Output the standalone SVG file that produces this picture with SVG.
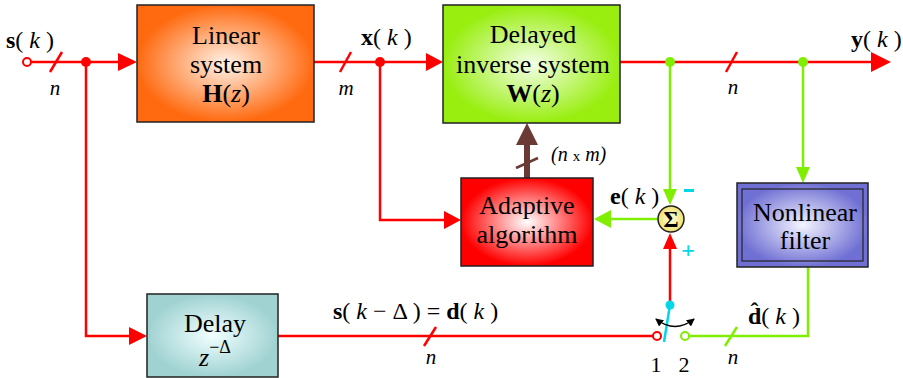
<svg xmlns="http://www.w3.org/2000/svg" width="903" height="378" viewBox="0 0 903 378" font-family="'Liberation Serif', 'Times New Roman', 'DejaVu Serif', serif">
<style>
.box{stroke:#222;stroke-width:1.5}
.bt{font-size:26px;text-anchor:middle}
.lb{font-size:24px}
.n{font-size:21px;font-style:italic;text-anchor:middle}
.r{stroke:#ff0000;stroke-width:2.5;fill:none}
.g{stroke:#80ee00;stroke-width:2.5;fill:none}
.b{font-weight:bold}
.i{font-style:italic}
</style>
<defs>
<radialGradient id="gO"><stop offset="0" stop-color="#fff4ea"/><stop offset="1" stop-color="#ff6a10"/></radialGradient>
<radialGradient id="gG"><stop offset="0" stop-color="#f4ffe8"/><stop offset="1" stop-color="#99ee10"/></radialGradient>
<radialGradient id="gR"><stop offset="0" stop-color="#ffffff"/><stop offset="1" stop-color="#ff0000"/></radialGradient>
<radialGradient id="gT"><stop offset="0" stop-color="#f2ffff"/><stop offset="1" stop-color="#a0d2d2"/></radialGradient>
<radialGradient id="gB"><stop offset="0" stop-color="#f4f4ff"/><stop offset="1" stop-color="#7070d4"/></radialGradient>
<radialGradient id="gY"><stop offset="0" stop-color="#ffffe0"/><stop offset="1" stop-color="#f0e070"/></radialGradient>
<marker id="aK" markerWidth="8" markerHeight="8" refX="7" refY="4" orient="auto-start-reverse" markerUnits="userSpaceOnUse" viewBox="0 0 8 8"><path d="M0,0 L8,4 L0,8 Z" fill="#000"/></marker>
</defs>

<g id="connectors">
  <path class="r" d="M31,62 H118" />
  <path d="M118,53 L137,62 L118,71 Z" fill="#ff0000"/>
  <line class="r" x1="50" y1="72" x2="62" y2="52" stroke-width="2"/>
  <circle cx="86" cy="62" r="5" fill="#ff0000"/>
  <path class="r" d="M86,62 V336 H130"/>
  <path d="M129,327 L147,336 L129,345 Z" fill="#ff0000"/>
  <path class="r" d="M314,62 H426"/>
  <path d="M426,53 L443,62 L426,71 Z" fill="#ff0000"/>
  <line class="r" x1="340" y1="72" x2="351" y2="52" stroke-width="2"/>
  <circle cx="380" cy="62" r="5" fill="#ff0000"/>
  <path class="r" d="M380,62 V220 H445"/>
  <path d="M444,211 L461,220 L444,229 Z" fill="#ff0000"/>
  <path class="r" d="M620,62 H872"/>
  <path d="M871,52 L891,62 L871,72 Z" fill="#ff0000"/>
  <line class="r" x1="726" y1="72" x2="737" y2="52" stroke-width="2"/>
  <circle cx="670" cy="62" r="5" fill="#80ee00"/>
  <circle cx="803" cy="62" r="5" fill="#80ee00"/>
  <path class="g" d="M670,62 V190"/>
  <path d="M663,189 L670,205 L677,189 Z" fill="#80ee00"/>
  <path class="g" d="M803,62 V168"/>
  <path d="M796,167 L803,183 L810,167 Z" fill="#80ee00"/>
  <path class="g" d="M658,219 H610"/>
  <path d="M611,210 L594,219 L611,228 Z" fill="#80ee00"/>
  <path class="r" d="M278,336 H653"/>
  <line class="r" x1="424" y1="346" x2="436" y2="327" stroke-width="2"/>
  <circle cx="657" cy="336" r="4" fill="#fff" stroke="#ff0000" stroke-width="2"/>
  <path class="r" d="M670,305 V248"/>
  <path d="M663,249 L670,233 L677,249 Z" fill="#ff0000"/>
  <line x1="670" y1="305" x2="664" y2="342" stroke="#00d8e8" stroke-width="2.5"/>
  <circle cx="670" cy="305" r="4.5" fill="#00d8e8"/>
  <path d="M656,319 Q675,334 694,319" fill="none" stroke="#000" stroke-width="1.5" marker-start="url(#aK)" marker-end="url(#aK)"/>
  <circle cx="685" cy="336" r="4" fill="#fff" stroke="#80ee00" stroke-width="2"/>
  <path class="g" d="M689,336 H808 V267"/>
  <line class="g" x1="725" y1="346" x2="737" y2="327" stroke-width="2"/>
  <line x1="527" y1="178" x2="527" y2="144" stroke="#6b3a34" stroke-width="6"/>
  <path d="M516,145 L527,123 L538,145 Z" fill="#6b3a34"/>
  <line x1="516" y1="168" x2="538" y2="158" stroke="#6b3a34" stroke-width="2.5"/>
</g>

<g id="linear"><rect class="box" x="137" y="5" width="177" height="117" fill="url(#gO)"/>
  <text class="bt" x="226" y="44">Linear</text>
  <text class="bt" x="226" y="73">system</text>
  <text class="bt" x="226" y="102"><tspan class="b">H</tspan>(<tspan class="i">z</tspan>)</text></g>
<g id="winv"><rect class="box" x="443" y="5" width="177" height="118" fill="url(#gG)"/>
  <text class="bt" x="533" y="43">Delayed</text>
  <text class="bt" x="533" y="73">inverse system</text>
  <text class="bt" x="533" y="102"><tspan class="b">W</tspan>(<tspan class="i">z</tspan>)</text></g>
<g id="adaptive"><rect class="box" x="461" y="178" width="132" height="88" fill="url(#gR)"/>
  <text class="bt" x="527" y="214">Adaptive</text>
  <text class="bt" x="527" y="243">algorithm</text></g>
<g id="nonlinear"><rect class="box" x="737" y="183" width="131" height="84" fill="url(#gB)"/>
  <rect x="742" y="189" width="121" height="72" fill="none" stroke="#222" stroke-width="1.2"/>
  <text class="bt" x="805" y="221">Nonlinear</text>
  <text class="bt" x="805" y="249">filter</text></g>
<g id="delay"><rect class="box" x="147" y="294" width="131" height="83" fill="url(#gT)"/>
  <text class="bt" x="215" y="332">Delay</text>
  <text class="bt" x="215" y="366"><tspan class="i">z</tspan><tspan font-size="18" dy="-13">−Δ</tspan></text></g>
<g id="sum"><circle cx="671" cy="219" r="13" fill="url(#gY)" stroke="#222" stroke-width="1.5"/>
  <text x="671" y="227" font-size="23" font-weight="bold" text-anchor="middle">Σ</text>
  <rect x="684" y="189" width="10" height="3" fill="#00d8e8"/>
  <text x="688" y="258" font-size="24" font-weight="bold" fill="#00d8e8" text-anchor="middle">+</text></g>

<g id="labels">
  <circle cx="27" cy="62" r="4" fill="#fff" stroke="#ff0000" stroke-width="2"/>
  <text class="lb" x="6" y="48"><tspan class="b">s</tspan>( <tspan class="i">k</tspan> )</text>
  <text class="n" x="55" y="95">n</text>
  <text class="lb" x="361" y="45"><tspan class="b">x</tspan>( <tspan class="i">k</tspan> )</text>
  <text class="n" x="346" y="95">m</text>
  <text class="lb" x="851" y="47"><tspan class="b">y</tspan>( <tspan class="i">k</tspan> )</text>
  <text class="n" x="733" y="94">n</text>
  <text x="551" y="161" font-size="20" font-style="italic">(n <tspan font-style="normal" font-size="15">x</tspan> m)</text>
  <text class="lb" x="610" y="204"><tspan class="b">e</tspan>( <tspan class="i">k</tspan> )</text>
  <text class="lb" x="333" y="319"><tspan class="b">s</tspan>( <tspan class="i">k</tspan> − Δ ) = <tspan class="b">d</tspan>( <tspan class="i">k</tspan> )</text>
  <text class="n" x="431" y="364">n</text>
  <text class="lb" x="748" y="324"><tspan class="b">d̂</tspan>( <tspan class="i">k</tspan> )</text>
  <text class="n" x="733" y="364">n</text>
  <text x="656" y="372" font-size="22" text-anchor="middle">1</text>
  <text x="684" y="372" font-size="22" text-anchor="middle">2</text>
</g>
</svg>
